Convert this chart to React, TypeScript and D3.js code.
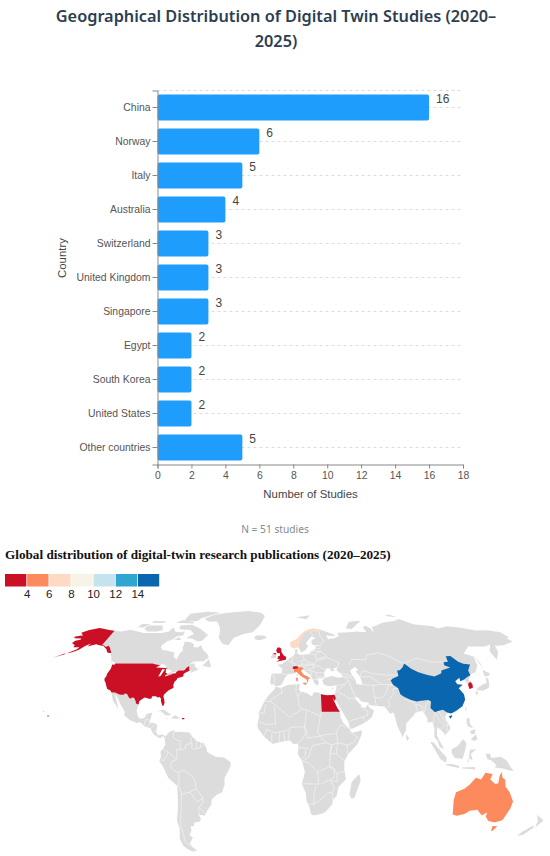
import React, { useEffect, useRef } from "react";
import * as d3 from "d3";

type Pt = [number, number];

const countries = ["China", "Norway", "Italy", "Australia", "Switzerland", "United Kingdom", "Singapore", "Egypt", "South Korea", "United States", "Other countries"];
const studies = [16, 6, 5, 4, 3, 3, 3, 2, 2, 2, 5];
const xTicks = [0, 2, 4, 6, 8, 10, 12, 14, 16, 18];

const legendBreaks = [4, 6, 8, 10, 12, 14];
const legendColors = ["#cb1026", "#fc8a5c", "#fddac6", "#f7f3e6", "#c5e3ef", "#2fa5cf", "#0a66ae"];

const width = 550;
const height = 856;

// map outlines, [lon, lat], rough but good enough at this size
const usaLower: Pt[] = [[-124.7,48.4],[-123,48.3],[-122.8,49],[-95.2,49],[-94.6,48.7],[-92.5,48.5],[-89.6,48],[-88.4,48.3],[-84.9,46.8],[-84.4,46.5],[-83.5,45.8],[-82.5,45.3],[-82.1,43.5],[-82.5,42.6],[-83.1,42.1],[-81.3,42.6],[-79,42.9],[-79.1,43.4],[-76.8,43.6],[-76.3,44.2],[-75,45],[-71.5,45],[-70.8,45.4],[-70.2,46.3],[-69.2,47.4],[-68.2,47.3],[-67.8,45.8],[-67,44.9],[-68.5,44.3],[-70,43.7],[-70.7,42.8],[-70.1,41.8],[-71.5,41.4],[-74,40.7],[-74.2,39.6],[-75.4,38.6],[-75.9,37],[-75.5,35.3],[-76.9,34.6],[-78.5,33.8],[-80,32.5],[-81.3,31.3],[-81.4,30.3],[-80.5,28.3],[-80,26.8],[-80.4,25.2],[-81.2,25.2],[-81.8,26.2],[-82.7,27.9],[-82.8,29],[-83.9,30],[-85.3,29.7],[-86.5,30.4],[-89,30.4],[-89.4,29.1],[-90.9,29.1],[-93.8,29.7],[-95,29.2],[-97.2,27.7],[-97.2,25.9],[-99.1,26.4],[-99.5,27.5],[-101,29.4],[-102.5,29.7],[-103.2,29],[-104.5,29.6],[-106.5,31.8],[-108.2,31.8],[-108.2,31.3],[-111,31.3],[-114.8,32.5],[-117.1,32.5],[-118.4,33.8],[-120.6,34.5],[-121.9,36.6],[-122.5,37.8],[-123.8,39.3],[-124.4,40.4],[-124.1,42],[-124.5,43],[-124,46.2]];
const alaska: Pt[] = [[-141,69.6],[-141,60.3],[-139,59.9],[-137.5,58.9],[-135.5,59.7],[-133.5,58.4],[-131,56],[-130,55],[-131.5,55],[-133.5,55.5],[-135.5,57.5],[-137,58.2],[-139.5,59.6],[-143,60],[-146,60.8],[-148.5,60],[-151.5,59.3],[-150.5,61.2],[-153.5,59.5],[-156.5,57],[-160,55.5],[-163.5,54.7],[-161,56],[-158,57.5],[-157.3,58.8],[-162,58.8],[-162,60],[-165.5,61.5],[-164.5,63],[-161,63.6],[-161,64.5],[-166.5,64.6],[-168,65.6],[-164,66.5],[-162,66.2],[-166.5,68.3],[-163,69.8],[-156.5,71.3],[-152,70.8],[-146,70.1]];
const aleutians: Pt[] = [[-164,54.5],[-168,53.3],[-171,52.4],[-168,53.6],[-165,54.7]];
const hawaii: Pt[] = [[-156,20.2],[-155,19.8],[-155.7,19]];
const kauai: Pt[] = [[-159.8,22.2],[-159.3,22.2],[-159.5,21.8]];
const puertoRico: Pt[] = [[-67.2,18.5],[-65.6,18.5],[-65.7,17.9],[-67.2,17.9]];
const egypt: Pt[] = [[25,31.6],[29,31],[32.3,31.2],[34.2,31.3],[34.9,29.5],[34.2,27.8],[32.6,29.9],[33.7,27.5],[35.5,24],[37,22],[25,22]];
const china: Pt[] = [[73.6,39.4],[75,40.3],[80,42],[80.5,45],[82.5,45.2],[85.5,47],[87.5,49.1],[91,46],[95,44],[100,42.6],[105,41.7],[111,43.5],[111.9,45],[119.5,46.7],[116,48],[116.7,49.8],[120,50],[120.5,53.2],[124,53.3],[127.5,50],[130.5,48.9],[135,48.4],[131,45],[130.6,42.4],[128,41.5],[124.4,40],[121.5,39],[121.8,40.9],[118,39],[119,37.3],[122.5,37],[119.3,35],[121.9,31.5],[121.8,28.5],[119,25],[114,22.3],[110.5,21],[108,21.6],[105.5,23],[102,22.4],[100,21.7],[97.5,24],[98.7,27.5],[97,28.3],[92,28],[89,27.5],[85,28.5],[81,30.2],[78.8,31.5],[78,35],[74.8,37]];
const hainan: Pt[] = [[108.7,19.3],[110.5,20.1],[111,19.6],[109.6,18.2]];
const southKorea: Pt[] = [[126.6,37.7],[128.4,38.6],[129.4,37],[129,35.2],[126.5,34.5],[126.3,36.5]];
const unitedKingdom: Pt[] = [[-5.7,50],[1.3,51.2],[1.7,52.7],[0,53.5],[-1.5,55],[-2,56],[-2,57.7],[-3.5,58.6],[-5,58.6],[-6,56.7],[-5,55],[-3,54.9],[-3,53.4],[-4.7,53],[-4.5,52],[-5.2,51.8],[-3,51.3]];
const northernIreland: Pt[] = [[-7.5,55],[-5.5,54.7],[-6,54.1],[-8,54.4]];
const italy: Pt[] = [[7.5,43.8],[8.8,44.4],[10.5,42.9],[12.5,41.5],[15.7,40],[16,38],[16.6,39],[17,40.5],[18.5,40.2],[16,41.9],[14,42.5],[12.3,44.3],[12.3,45.3],[13.7,45.7],[13.7,46.5],[12,47],[10.4,46.8],[8.5,46.3],[7,45.9],[7,44.3]];
const sicily: Pt[] = [[12.5,38],[15.6,38.2],[15.1,36.7]];
const sardinia: Pt[] = [[8.2,41],[9.7,41],[9.5,39],[8.6,39]];
const switzerland: Pt[] = [[6,46.3],[7,47.5],[9.6,47.5],[10.4,46.8],[9,46],[7,45.9]];
const norway: Pt[] = [[5,59],[5,62],[10,64],[14,67.5],[19,70],[25,71],[31,70],[29,69],[25,69],[21,69],[17,68],[14,64.5],[12,61],[11,59],[8,58],[5.5,59]];
const australia: Pt[] = [[114,-22],[113.5,-26],[115,-34.3],[118,-35],[123,-34],[126,-32.2],[131,-31.5],[135,-34.8],[138,-33],[138,-35.6],[140.5,-38],[145,-38.8],[150,-37.5],[153,-31],[153.5,-27],[149.5,-22],[146,-19],[145.3,-15],[143.5,-14],[142.5,-10.8],[141.5,-13],[141,-17],[139,-17.5],[135.5,-15],[136.8,-12],[132,-11.3],[129.5,-15],[126,-14],[122,-18],[119,-20]];
const tasmania: Pt[] = [[144.8,-40.8],[148.3,-41],[147.2,-43.5],[146,-43.5]];

const canada: Pt[] = [[-141,69.6],[-135,69],[-128,70.2],[-124,69.5],[-115,68],[-108,68],[-100,68],[-95,69],[-94,71.8],[-90,69],[-86,68.5],[-82,69],[-81.5,66.5],[-86,66],[-88,64],[-92,62.5],[-94.5,60],[-94.7,58.8],[-92.5,57],[-88,56.5],[-82.5,55.2],[-82,52.8],[-79.5,51.3],[-79,52],[-78.5,54.7],[-76.7,56.5],[-78,58.8],[-77.5,60],[-78,62.4],[-73,62],[-70,60.8],[-69.5,58.8],[-66,58.7],[-64.5,60.3],[-61.5,57],[-57.5,54.5],[-55.8,52.5],[-59,50.3],[-66,50.2],[-69,48.5],[-65,49.2],[-64.5,47.5],[-61.5,45.8],[-60,46],[-63.5,44.7],[-66,43.6],[-65.7,45],[-67,44.9],[-67.8,45.8],[-68.2,47.3],[-69.2,47.4],[-70.2,46.3],[-71.5,45],[-75,45],[-79,43.5],[-79,42.9],[-83,42],[-82.1,43.5],[-83.5,45.8],[-84.9,46.8],[-88.4,48.3],[-89.6,48],[-95.2,49],[-122.8,49],[-123.3,49.3],[-125,50],[-127.5,51],[-128,52.5],[-130.3,54.5],[-130,55],[-131,56],[-133.5,58.4],[-135.5,59.7],[-137.5,58.9],[-139,59.9],[-141,60.3]];
const mexicoCentral: Pt[] = [[-117.1,32.5],[-114.8,32.5],[-111,31.3],[-108.2,31.3],[-106.5,31.8],[-104.5,29.6],[-103.2,29],[-102.5,29.7],[-101,29.4],[-99.5,27.5],[-99.1,26.4],[-97.2,25.9],[-97.8,22.5],[-96.1,19],[-94.5,18.2],[-92,18.6],[-90.5,20.9],[-87,21.5],[-87.5,19.5],[-88.2,17],[-88.8,15.9],[-86,15.9],[-83.3,15],[-83.7,11],[-82.5,9.2],[-79.6,9.5],[-77.4,8.6],[-77.9,7.2],[-78.5,8.5],[-80,8.5],[-80.5,7.3],[-83,8.2],[-85.7,10],[-87.5,13],[-91.5,14],[-94.5,16.2],[-97,15.8],[-101.5,17.5],[-105.5,20],[-105.5,22],[-109,25.6],[-112.5,30],[-114.8,31.8],[-113,29],[-110,23.2],[-112.2,25.5],[-115,28]];
const southAmerica: Pt[] = [[-77.4,8.6],[-75.5,10.7],[-72,12.2],[-71.5,10.9],[-68,11],[-62,10.7],[-60,8.5],[-57,6],[-52,4.7],[-50,1],[-50,0],[-44.5,-2.6],[-39,-3],[-35,-5.5],[-34.8,-7.5],[-37,-11],[-39,-14],[-39.2,-18],[-41,-22],[-45,-23.5],[-48.5,-26],[-48.8,-28.5],[-52,-32],[-54,-34.8],[-57,-34.5],[-58.4,-34],[-57,-36.5],[-57.7,-38.2],[-62,-39],[-62.5,-41],[-65,-41],[-65,-43],[-67.5,-46],[-65.8,-47.5],[-69,-50.5],[-68.5,-52.5],[-65.2,-54.8],[-69,-55.3],[-72,-54],[-74.5,-52],[-75.5,-48],[-73,-42],[-73.5,-37.5],[-71.5,-30],[-70.3,-18.5],[-76,-14],[-79,-8],[-81.3,-5],[-80,-2.5],[-80.3,0],[-78.5,2],[-77.3,4],[-77.9,7.2]];
const africa: Pt[] = [[-5.9,35.8],[-2,35.1],[3,36.9],[10,37.3],[11,36.9],[10.2,34.2],[11,33.2],[15.3,32.3],[19,30.3],[20,32.5],[23,32.7],[25,31.6],[29,31],[32.3,31.2],[34.2,31.3],[34.9,29.5],[34.2,27.8],[32.6,29.9],[33.7,27.5],[35.5,24],[37,22],[37.3,19],[39,15.8],[43.2,12.5],[43.5,11.4],[45,10.5],[51.2,11.9],[50.8,9.5],[48,4.5],[42,-1],[39.3,-5],[39.5,-10],[40.7,-14.8],[36,-19],[35,-24],[32.8,-26],[32.5,-28.5],[28,-33],[25,-34],[20,-34.8],[18.4,-34],[17,-29.5],[15,-26.5],[14.5,-22.5],[11.8,-17.5],[13.7,-11],[12,-5.5],[9,-1],[9.5,3.5],[8.7,4.5],[6,4.3],[4,6.3],[1,6],[-4,5.2],[-7.5,4.4],[-13,8.5],[-16.7,12.4],[-17.5,14.7],[-16.2,20],[-17,21],[-13,27.8],[-9.8,31.5],[-6.8,34]];
const eurasia: Pt[] = [[-9,37],[-9.5,38.8],[-8.8,43.2],[-1.8,43.4],[-1.2,46],[-4.6,48.3],[-1.5,48.7],[1.5,50.5],[4,52],[7,53.5],[8.5,55],[8.2,57],[10.5,57.5],[10,55],[11,54],[14,54],[19,54.5],[21,56.5],[23.5,57.2],[24.5,59.4],[29.5,60],[23,60],[21.5,61],[21.5,63],[25,65],[22,65.8],[18,62.5],[17,60.7],[18.8,59.7],[16.5,57],[14.5,56],[13,55.4],[11,59],[8,58],[5.5,59],[5,62],[10,64],[14,67.5],[19,70],[25,71],[31,70],[41,67],[40.5,66],[34,66.5],[35,64],[40,64.7],[44,66],[44,68.3],[54,68.5],[60,69],[68,68.5],[67,71.5],[70,73],[73,71],[74,68],[75,72],[80,73],[87,75],[100,76.5],[105,77.7],[113,74],[128,72.5],[130,71],[140,72.5],[150,71.5],[160,69.7],[170,69.8],[178,68.5],[179.9,65.2],[177,64.7],[179.5,62.5],[170,60],[163,59.8],[162,56],[156.8,51],[155.6,56],[160,60.5],[155,59.3],[142,59.3],[135,54.7],[141,53],[140,48],[135.5,44],[132,43.2],[130.7,42.3],[127.5,39.8],[129.4,37],[129,35.2],[126.5,34.5],[126.6,37.5],[125,38],[125.3,39.7],[121.5,39],[121.8,40.9],[118,39],[119,37.3],[122.5,37],[119.3,35],[121.9,31.5],[121.8,28.5],[119,25],[114,22.3],[110.5,21],[108,21.6],[106,19],[109.3,13],[107,10.5],[105,8.8],[105,10.2],[102,12.7],[100.5,13.5],[100,9],[103.4,3],[104.2,1.4],[101.3,2.8],[100.3,6],[98.3,8],[98.6,13],[97.5,16.5],[94.5,16],[94.3,18.5],[91.8,22.4],[89,22],[87,21.4],[85,19.5],[80.3,15.5],[80,12],[77.5,8],[74.5,14],[72.8,20],[72.5,21.5],[70,20.8],[69,22.3],[67,24.8],[61.7,25.1],[57,25.7],[56.5,27],[52,27.6],[49.5,30],[48,30],[48,29],[50,26.7],[51.2,26],[51.5,24.5],[54,24],[56.3,26],[56.5,24.5],[59.7,22.5],[57.8,19],[55,17],[52,15.6],[45,12.8],[43.3,12.7],[42.6,16],[39,21.5],[36,26.5],[35,28],[34.9,29.5],[34.2,31.3],[35.8,35],[36,36.7],[32,36.1],[30,36.3],[27.5,37],[26.3,39.5],[29,41],[33,42],[38,41],[41.5,41.5],[39,44],[37.3,45.3],[38.5,47],[35,46],[36.5,45.2],[33.5,44.5],[33,46],[30.7,46.5],[28.5,44],[28,41.8],[29,41.2],[26,40.7],[23,40.4],[24,38],[22.8,36.5],[21.2,37.5],[19.4,41],[18.5,42.5],[14,45.2],[13.7,45.7],[12.3,45.3],[12.3,44.3],[14,42.5],[16,41.9],[18.5,40.2],[17,40.5],[16.6,39],[16,38],[15.7,40],[12.5,41.5],[10.5,42.9],[8.8,44.4],[6,43.1],[3.1,43.2],[0.5,40.7],[-0.3,39.2],[-2,36.8],[-5.5,36],[-7,37.2]];

const grayIslands: Pt[][] = [
  [[-73,78.2],[-66,80.8],[-55,82.3],[-35,83.5],[-22,82.2],[-18,80],[-20,75],[-22,72],[-26,68.6],[-33,67.5],[-40,65],[-43,60],[-48,61],[-52,65],[-53,69],[-55,72],[-60,76],[-68,76]],
  [[-61.5,66.7],[-64.5,63],[-68,62.5],[-73,64.4],[-78,64.6],[-73.5,67.5],[-78,70],[-88,70.5],[-89.5,73],[-80,73.7],[-71,71]],
  [[-105,69],[-101,69.8],[-105,73],[-117,73],[-118,71],[-113,69]],
  [[-125,72],[-120,71.5],[-117,74],[-124,74.3]],
  [[-90,76.5],[-78,76.4],[-76,78.5],[-65,81.5],[-62,82.5],[-75,83],[-90,81.5]],
  [[-96,75],[-80,74.6],[-80,75.8],[-92,76.8]],
  [[-117,75],[-106,74.9],[-106,76.2],[-117,76.3]],
  [[-87,63.5],[-81,63.5],[-84,65.5]],
  [[-59,47.7],[-53,46.7],[-52.8,47.7],[-55.5,51.5]],
  [[-128.3,50.7],[-123.5,48.4],[-125,48.8]],
  [[-85,21.9],[-80,23.2],[-74.2,20.2],[-77.7,19.9],[-82,22.4]],
  [[-74.4,18.4],[-72,20],[-68.4,18.6],[-71,18]],
  [[-78.3,18.4],[-76.3,18.1],[-77.5,17.8]],
  [[131,-1],[134,-1],[135,-3.3],[141,-2.6],[145,-4.5],[148,-8],[150.5,-10.5],[147,-10],[143,-9],[138,-8.5],[138.5,-7],[135,-4.5],[132.5,-4]],
  [[109,1.5],[113,3.3],[116.8,7],[119,5],[117.8,1],[116.3,-3.8],[111,-3.2],[109,-0.5]],
  [[95.3,5.6],[97.5,5.2],[103.5,-1],[106,-3],[105.8,-5.9],[102,-4],[98,1.5]],
  [[105.5,-6.5],[110,-6.5],[114.5,-7.7],[114.4,-8.7],[106.5,-7.4]],
  [[119.5,-5.5],[120.5,-2.8],[120.8,1.2],[125,1.5],[121.5,-0.9],[123,-4.5],[120.5,-3.5],[120.4,-5.6]],
  [[116,-8.5],[125,-8.2],[125,-9.5],[117,-9]],
  [[120.5,18.4],[122.2,18.4],[122,16],[124,13],[120.6,14],[120,16]],
  [[122,7],[125.5,9.7],[126.5,7],[124,6]],
  [[122,11.5],[125.5,12.5],[125,10],[122.5,9.5]],
  [[130.9,34],[135.5,33.6],[140,35.2],[141,37.5],[141.5,40.5],[140,41],[139.5,38],[136.8,37.2],[133,35.5]],
  [[130,33],[131.8,33.2],[131,31.2],[130,31.6]],
  [[140,41.7],[141.5,45.4],[145.2,43.5],[143,42]],
  [[142,54.2],[143,49],[142.5,46],[142,50]],
  [[120.2,23],[121.5,25.2],[121,22]],
  [[80,9.7],[81.8,7.5],[80.5,6],[79.8,7.5]],
  [[49.3,-12],[50.4,-15.5],[47,-25],[45,-25.5],[43.5,-23],[44.5,-16.3]],
  [[172.7,-34.4],[178.4,-37.7],[175.2,-41.6],[174.6,-38]],
  [[172.7,-40.5],[174.3,-41.7],[170.8,-45.9],[167,-46.3],[168.5,-44]],
  [[-24,65.5],[-22,66.4],[-16,66.5],[-13.6,65],[-18.8,63.4],[-22.7,63.9]],
  [[-10,52],[-8.2,55.2],[-6,55],[-6,52.2]],
  [[11,79],[25,80.4],[20,77.5]],
  [[52,71],[57,70.7],[69,76.5],[58,75.8]],
  [[8.6,43],[9.5,43],[9.3,41.5]],
  [[32.5,35],[34.5,35.6],[33.5,34.6]],
  [[95,80],[105,79],[100,81]]
];

const waterBodies: Pt[][] = [
  [[-92,46.7],[-84.7,46.5],[-85,47.8],[-88.5,48.8]],
  [[-87.7,41.7],[-86.3,42],[-85,45.7],[-87,45.7]],
  [[-84.5,46],[-80,45],[-80,44.5],[-81.7,43.2],[-83.5,43.7]],
  [[-83.4,41.7],[-79,42.8],[-79.5,42.9],[-83,42.3]],
  [[-79.8,43.3],[-76.2,43.5],[-76.3,44.2],[-79.2,43.9]],
  [[47,45],[51,47],[53,45.5],[51,44.5],[53,41.5],[54,37],[50,37.3],[49.2,40],[47.5,43]]
];

const borders: Pt[][] = [
  // South America
  [[-72,12],[-72.5,8],[-70,6.5],[-67.5,6],[-67.5,2],[-67,1.2]],
  [[-60,8.5],[-61,5.5],[-60,5]],
  [[-51.8,4.2],[-54.5,2.3],[-58,1.5],[-60,2],[-60,5],[-64,4],[-64,2],[-67,1.2],[-70,1.5],[-69.5,-1],[-70,-4.2],[-73,-5],[-74,-7.5],[-73,-9.5],[-70.5,-11],[-69,-11],[-65.5,-10],[-60,-13.5],[-58,-16.5],[-58,-20],[-54.5,-24.5],[-54,-27.3],[-57.5,-30.3],[-53.5,-33.7]],
  [[-57,6],[-56.8,2]],
  [[-54,6],[-54.5,2.3]],
  [[-78.8,1.4],[-75,0],[-70,-4.2]],
  [[-80.3,-3.4],[-78.5,-5],[-75.3,-0.1]],
  [[-69,-11],[-69,-16],[-69.5,-17.5]],
  [[-70.3,-18.5],[-69.5,-17.5],[-68,-23],[-70,-33],[-71.5,-40],[-72,-50],[-69,-52]],
  [[-68,-23],[-62.5,-22],[-58,-20]],
  [[-62.5,-22],[-58,-27],[-54.5,-25.5]],
  [[-58,-34],[-57.5,-30.3]],
  // Central America
  [[-92,14.5],[-91,17.8],[-89,17.8],[-88.2,16]],
  [[-89,14],[-88,15.8]],
  [[-87.5,13],[-84.5,15]],
  [[-85.7,11],[-83.7,11]],
  [[-83,8.2],[-82.7,9.5]],
  // Africa
  [[-2,35.1],[-1.2,32.5],[-5,30.5],[-8.7,28.7],[-8.7,27.3]],
  [[-13,27.7],[-8.7,27.7]],
  [[-17,21.3],[-13,21.3],[-13,23],[-12,26]],
  [[-8.7,27.3],[-4.8,25],[3.3,19],[4.2,19.2],[12,23.5]],
  [[-16.5,16.5],[-12,15],[-5.5,15.5],[-6.5,25]],
  [[8.5,37],[8,33],[9.5,30.2],[10,25.3],[12,23.5]],
  [[11.5,33.2],[9.5,30.2]],
  [[12,23.5],[15,23],[24,19.5]],
  [[25,22],[24,19.5],[23,15.5],[22,11],[23.5,8.7]],
  [[15,23],[13.5,13.7],[14.5,11],[15.5,7.5]],
  [[2.7,6.3],[3.6,11.7],[4,13.5],[13.5,13.7],[14.5,11],[11.5,6.5],[8.7,4.5]],
  [[-12,12.4],[-5.5,10.5],[-3,11],[2.7,12],[3.6,11.7]],
  [[-3,5],[-2.8,11]],
  [[0.5,6],[0,11]],
  [[-8,4.5],[-8,10]],
  [[-13,9],[-11,12.4]],
  [[15.5,7.5],[23.5,8.7],[27.5,5]],
  [[23.5,8.7],[27,9.5],[33,10],[34.3,10.5]],
  [[37,15],[34.3,10.5],[35,5]],
  [[37,15],[43,12.7]],
  [[43,11],[48,8],[45,5],[41.5,3.8],[35,5]],
  [[41.5,-1.8],[41,3.9]],
  [[39.3,-4.7],[34,-1],[30,-1]],
  [[30,-1],[31,3.8],[35,5],[34,-1]],
  [[12,-5],[16,-6],[22,-11],[30,-8],[30,-1],[31,3.8],[27.5,5],[18.5,3.5],[16,-3],[12,-5]],
  [[9.8,2.3],[16,2]],
  [[11,-3.8],[14,-2],[14,1.5]],
  [[11.8,-17.3],[23,-17.5],[22,-11]],
  [[24,-17.5],[33,-14],[33,-9],[30,-8]],
  [[20,-28.5],[20,-22],[21,-18.3]],
  [[16.5,-28.6],[20,-28.5],[25,-25.7],[29,-22.2],[32,-22.3],[32.8,-26.8]],
  [[32,-22.3],[33,-19],[30.5,-15.6],[35,-16],[34.8,-11.5],[40.4,-10.5]],
  [[30,-8],[34.8,-11.5]],
  // Europe
  [[-1.8,43.4],[3.1,42.5]],
  [[-8.8,42],[-6.5,42],[-7,37.2]],
  [[2.5,51],[6,49.5],[8,49],[7.5,47.6],[6,46.3],[7,45.9],[7,44]],
  [[7,53.5],[6,51],[6,49.5]],
  [[8.7,55],[9.7,54.8]],
  [[14,54],[15,51],[12,50.3],[13.7,48.7],[10,47.4],[7.5,47.6]],
  [[15,51],[19,49.4],[22.7,49.2],[24,50.7],[23.5,54],[19,54.5]],
  [[13.7,48.7],[17,48.7],[22.5,48.5]],
  [[10,47.4],[17,48],[16,46.8],[13.7,46.5]],
  [[17,48],[22,48.3],[20.3,46],[16.5,46.3]],
  [[20.3,46],[24.5,48],[28,46],[29.5,45.2]],
  [[22.5,44],[28.5,43.7]],
  [[22.5,44],[22.8,41.4],[26,41.5]],
  [[20,39.7],[26,41]],
  [[14,45.5],[19,45],[22.5,44]],
  [[19,45],[19.4,42]],
  [[24,50.7],[32,52.3],[40,49.6],[38.5,47]],
  [[23.5,54],[28,56],[32,53],[24,51.5]],
  [[21,56.3],[28,56]],
  [[24.5,57.9],[27.5,57.7]],
  [[28,59.5],[27.5,57.7]],
  [[29,69.5],[29,66],[31.5,62.5],[28,60.5]],
  [[24,66],[21,69]],
  // Middle East and Asia
  [[26.3,41.8],[28,41.8]],
  [[36,36.7],[42,37.2],[44.5,39.5],[41.5,41.5]],
  [[38,44],[40,43.5],[48,41.8]],
  [[41.5,41.5],[46,41],[48.5,39.5]],
  [[36,33.5],[42,37.2]],
  [[36,33.5],[39,32],[44,29.2],[48,29]],
  [[36.5,29.5],[39,32]],
  [[43,17],[52,19],[55,20],[55.7,22],[51.5,24.5]],
  [[52,19],[53,16.7]],
  [[44.5,39.5],[46,35],[48,30]],
  [[54,37.2],[61,36.5],[61,31.5],[61.7,25.1]],
  [[61,29.8],[66,29.5],[70,33],[71.5,36.5],[74.8,37]],
  [[61,36.5],[65,37.3],[71,37],[74.8,37]],
  [[68.5,24],[71,25.5],[70,28],[74.5,32],[74,34.5],[78,35]],
  [[80.5,29],[88,26.5]],
  [[88.5,22],[88,26],[92,25],[92.5,21]],
  [[92.5,21],[94.5,25],[97,28]],
  [[100,21.7],[99,20],[98,15],[99,11]],
  [[100,21.7],[102,17.5],[105.5,14.5],[107.5,15]],
  [[102,22.4],[107.5,15],[106.5,11]],
  [[102.5,12],[105.5,14.5]],
  [[100.3,6.5],[102,6]],
  [[47,48],[50,51.5],[60,51],[62,54],[71,55],[77,53.5],[85.5,49.5],[87.5,49.1]],
  [[53,42],[56,45],[62,43.5],[66,43],[71,42.5],[80,42.5]],
  [[53,41.5],[60,41.5],[65.5,38]],
  [[71,40],[75,40.3]],
  [[87.5,49.1],[98,52],[107,50],[116.7,49.8]],
  [[125,38],[128.4,38.6]]
];

// which outlines belong to which charted country, values come from the study list
const studiesOf = (name: string) => studies[countries.indexOf(name)];
const highlighted: { name: string; rings: Pt[][] }[] = [
  { name: "United States", rings: [usaLower, alaska, aleutians, hawaii, kauai, puertoRico] },
  { name: "China", rings: [china, hainan] },
  { name: "Egypt", rings: [egypt] },
  { name: "South Korea", rings: [southKorea] },
  { name: "United Kingdom", rings: [unitedKingdom, northernIreland] },
  { name: "Italy", rings: [italy, sicily, sardinia] },
  { name: "Switzerland", rings: [switzerland] },
  { name: "Norway", rings: [norway] },
  { name: "Australia", rings: [australia, tasmania] }
];

export default function App() {
  const svgRef = useRef<SVGSVGElement>(null);

  useEffect(() => {
    const svg = d3.select(svgRef.current);
    svg.selectAll("*").remove();

    const sans = "Liberation Sans, Arial, sans-serif";

    // titles
    const title = svg.append("text")
      .attr("text-anchor", "middle")
      .attr("font-family", "Noto Sans, sans-serif")
      .attr("font-weight", 600)
      .attr("font-size", 16.3)
      .attr("fill", "#2c3e50");
    title.append("tspan").attr("x", 276).attr("y", 22).text("Geographical Distribution of Digital Twin Studies (2020–");
    title.append("tspan").attr("x", 276).attr("y", 47).text("2025)");

    // bar chart
    const x = d3.scaleLinear().domain([0, 18]).range([157.5, 463]);
    const y = d3.scaleBand().domain(countries).range([90.5, 464.5]).paddingInner(0.23).paddingOuter(0.115);
    const mid = (c: string) => (y(c) as number) + y.bandwidth() / 2;

    const grid = svg.append("g");
    grid.selectAll("line")
      .data(countries)
      .enter()
      .append("line")
      .attr("x1", x(0))
      .attr("x2", x(18))
      .attr("y1", (d) => mid(d))
      .attr("y2", (d) => mid(d))
      .attr("stroke", "#dcdcdc")
      .attr("stroke-dasharray", "3,3");
    grid.append("line")
      .attr("x1", x(0)).attr("x2", x(18)).attr("y1", 90.5).attr("y2", 90.5)
      .attr("stroke", "#dcdcdc").attr("stroke-dasharray", "3,3");

    svg.append("g")
      .selectAll("rect")
      .data(countries)
      .enter()
      .append("rect")
      .attr("x", x(0))
      .attr("y", (d) => y(d) as number)
      .attr("width", (d, i) => x(studies[i]) - x(0))
      .attr("height", y.bandwidth())
      .attr("rx", 2)
      .attr("fill", "#1f9dfd");

    svg.append("g")
      .selectAll("text")
      .data(countries)
      .enter()
      .append("text")
      .attr("x", (d, i) => x(studies[i]) + 7)
      .attr("y", (d) => mid(d) - 5)
      .attr("font-family", sans)
      .attr("font-size", 12)
      .attr("fill", "#444")
      .text((d, i) => studies[i]);

    const xAxis = svg.append("g")
      .attr("transform", "translate(0,464.5)")
      .call(d3.axisBottom(x).tickValues(xTicks).tickSize(4).tickPadding(3));
    const yAxis = svg.append("g")
      .attr("transform", "translate(157.5,0)")
      .call(d3.axisLeft(y).tickSize(5).tickPadding(2));
    [xAxis, yAxis].forEach((axis) => {
      axis.selectAll("path,line").attr("stroke", "#888");
      axis.selectAll("text").attr("font-family", sans).attr("font-size", 10.4).attr("fill", "#555");
      axis.attr("font-family", sans);
    });

    svg.append("text")
      .attr("x", 310.5).attr("y", 498)
      .attr("text-anchor", "middle")
      .attr("font-family", sans).attr("font-size", 11.4).attr("fill", "#444")
      .text("Number of Studies");
    svg.append("text")
      .attr("transform", "translate(66,258) rotate(-90)")
      .attr("text-anchor", "middle")
      .attr("font-family", sans).attr("font-size", 11.4).attr("fill", "#444")
      .text("Country");
    svg.append("text")
      .attr("x", 275).attr("y", 533)
      .attr("text-anchor", "middle")
      .attr("font-family", "Noto Sans, sans-serif").attr("font-size", 10.2).attr("fill", "#7f8c8d")
      .text("N = 51 studies");

    // map title and legend
    svg.append("text")
      .attr("x", 5).attr("y", 559)
      .attr("font-family", "Liberation Serif, serif").attr("font-weight", 700).attr("font-size", 13.2)
      .attr("fill", "#111")
      .text("Global distribution of digital-twin research publications (2020–2025)");

    const color = d3.scaleThreshold<number, string>().domain(legendBreaks).range(legendColors);
    const legendX = d3.scaleLinear().domain([2, 16]).range([5, 160]);
    svg.append("g")
      .selectAll("rect")
      .data(legendColors)
      .enter()
      .append("rect")
      .attr("x", (d, i) => legendX(2 + i * 2))
      .attr("y", 574)
      .attr("width", legendX(4) - legendX(2) - 0.8)
      .attr("height", 12.5)
      .attr("fill", (d) => d);
    svg.append("g")
      .selectAll("text")
      .data(legendBreaks)
      .enter()
      .append("text")
      .attr("x", (d) => legendX(d))
      .attr("y", 597.5)
      .attr("text-anchor", "middle")
      .attr("font-family", sans).attr("font-size", 11.5).attr("fill", "#222")
      .text((d) => d);

    // pseudo-cylindrical projection, factors fitted against the reference
    const widthAt = d3.scaleLinear().domain([0, 20, 40, 48, 65, 70, 90]).range([1, 0.985, 0.94, 0.897, 0.815, 0.778, 0.6]);
    const heightAt = d3.scaleLinear().domain([0, 30, 55, 72, 90]).range([0, 55, 99, 125, 150].map((v) => v / 88.2));
    const deg = 180 / Math.PI;
    const raw = (lambda: number, phi: number): [number, number] => {
      const lat = phi * deg;
      return [lambda * widthAt(Math.abs(lat)), Math.sign(lat) * heightAt(Math.abs(lat))];
    };
    const projection = d3.geoProjection(raw as any).scale(88.2).translate([284, 752]);
    const toPath = d3.line();
    const ringPath = (ring: Pt[]) => toPath(ring.map((p) => projection(p) as Pt)) + "Z";

    const land = [canada, mexicoCentral, southAmerica, africa, eurasia, ...grayIslands];
    const map = svg.append("g");
    map.append("g")
      .selectAll("path")
      .data(land)
      .enter()
      .append("path")
      .attr("d", ringPath)
      .attr("fill", "#dcdcdc");
    map.append("g")
      .selectAll("path")
      .data(borders)
      .enter()
      .append("path")
      .attr("d", (d) => toPath(d.map((p) => projection(p) as Pt)))
      .attr("fill", "none")
      .attr("stroke", "#f3f3f3")
      .attr("stroke-width", 0.7);
    highlighted.forEach((c) => {
      map.append("path")
        .attr("d", c.rings.map(ringPath).join(""))
        .attr("fill", color(studiesOf(c.name)));
    });
    map.append("g")
      .selectAll("path")
      .data(waterBodies)
      .enter()
      .append("path")
      .attr("d", ringPath)
      .attr("fill", "#fff");
  }, []);

  return (
    <svg
      ref={svgRef}
      width={width}
      height={height}
      style={{ position: "absolute", left: 0, top: 0, background: "#fff" }}
    />
  );
}
